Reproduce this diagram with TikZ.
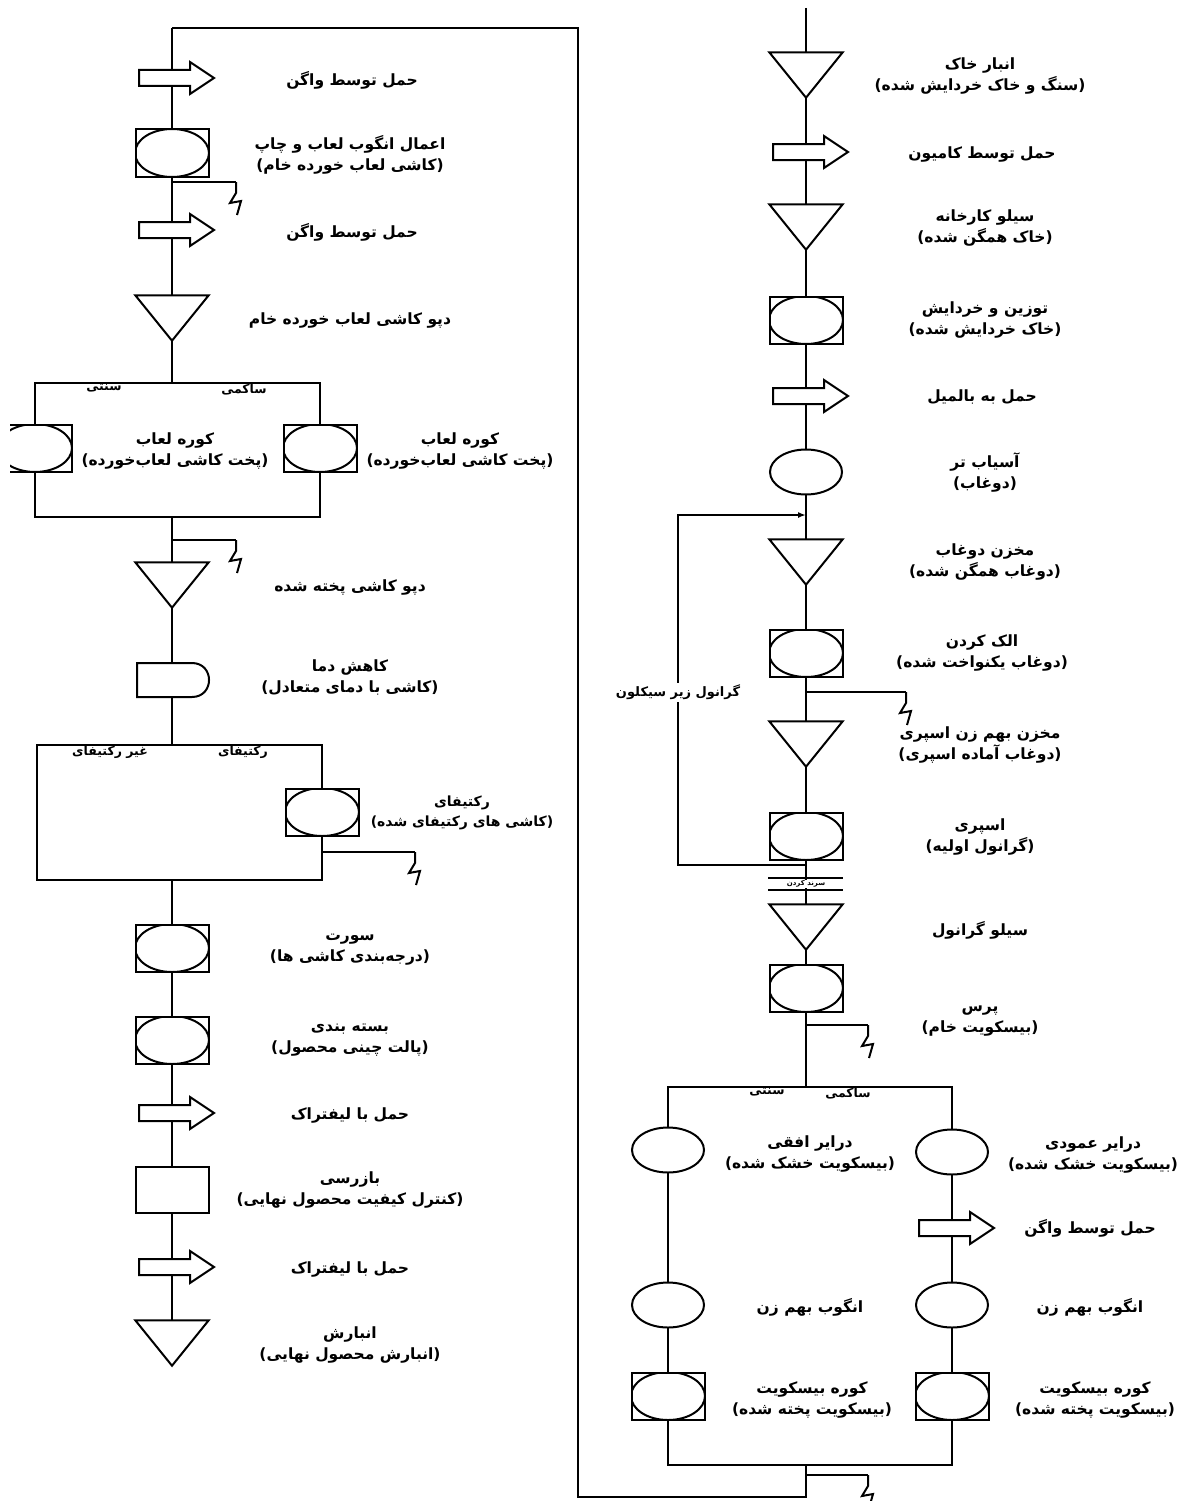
\documentclass[tikz,border=0pt]{standalone}
\usepackage{fontspec}
\usetikzlibrary{shapes.geometric,arrows.meta}
\TeXXeTstate=1
\newfontfamily\fafont[Script=Arabic]{DejaVu Sans}
\newcommand{\fa}[1]{{\fafont\bfseries\beginR #1\endR}}
\pgfdeclarelayer{background}
\pgfsetlayers{background,main}
\tikzset{
  flow/.style={line width=2pt},
  shapeline/.style={line width=2pt, fill=white, line join=miter},
  opbox/.style={draw, fill=white, line width=2pt, minimum width=73pt, minimum height=47pt, inner sep=0pt,
    path picture={\draw[line width=2pt] (path picture bounding box.center) ellipse [x radius=37pt, y radius=24pt];}},
  opcirc/.style={ellipse, draw, fill=white, line width=2pt, minimum width=72pt, minimum height=45pt, inner sep=0pt},
  inspect/.style={draw, fill=white, line width=2pt, minimum width=73pt, minimum height=46pt, inner sep=0pt},
  store/.style={minimum width=73pt, minimum height=45pt, inner sep=0pt},
  carry/.style={minimum width=75pt, minimum height=32pt, inner sep=0pt},
  delay/.style={minimum width=73pt, minimum height=34pt, inner sep=0pt},
  lbl/.style={font=\fontsize{15.5}{21}\selectfont, align=center, inner sep=1pt},
  branch/.style={font=\fontsize{12.5}{13}\selectfont, anchor=north, inner sep=0pt},
  scrap/.pic={\draw[flow] (0,0) -- (0,11) -- (-6,21) -- (5,19) -- (1,33);}
}
% storage triangle, transport arrow, delay
\newcommand{\storenode}[2]{\node[store] (#1) at #2 {};
  \filldraw[shapeline] (#1.north west) -- (#1.north east) -- (#1.south) -- cycle;}
\newcommand{\carrynode}[2]{\node[carry] (#1) at #2 {};
  \filldraw[shapeline] ([shift={(-33,-8)}]#1.center) -- ++(51,0) -- ++(0,-8) -- ++(24,16)
    -- ++(-24,16) -- ++(0,-8) -- ++(-51,0) -- cycle;}
\newcommand{\delaynode}[2]{\node[delay] (#1) at #2 {};
  \filldraw[shapeline] ([shift={(-35,-17)}]#1.center) -- ([shift={(20,-17)}]#1.center)
    .. controls ([shift={(42.7,-17)}]#1.center) and ([shift={(42.7,17)}]#1.center) .. ([shift={(20,17)}]#1.center)
    -- ([shift={(-35,17)}]#1.center) -- cycle;}
\begin{document}
\begin{tikzpicture}[x=1pt,y=-1pt]
\useasboundingbox (0,0) rectangle (1189,1501);
\clip (10,-2) rectangle (1189,1501);

% left column
\carrynode{L1}{(172,78)}
\node[opbox] (L2) at (172,153) {};
\carrynode{L3}{(172,230)}
\storenode{L4}{(172,318)}
\node[opbox] (B1L) at (35,448) {};
\node[opbox] (B1R) at (320,448) {};
\storenode{L5}{(172,585)}
\delaynode{L6}{(172,680)}
\node[opbox] (B2R) at (322,812) {};
\node[opbox] (L7) at (172,948) {};
\node[opbox] (L8) at (172,1040) {};
\carrynode{L9}{(172,1113)}
\node[inspect] (L10) at (172,1190) {};
\carrynode{L11}{(172,1267)}
\storenode{L12}{(172,1343)}

\node[lbl] (tL1) at (352,80) {\fa{حمل توسط واگن}};
\node[lbl] (tL2) at (350,155) {\fa{اعمال انگوب لعاب و چاپ}\\\fa{(کاشی لعاب خورده خام)}};
\node[lbl] (tL3) at (352,232) {\fa{حمل توسط واگن}};
\node[lbl] (tL4) at (350,321) {\fa{دپو کاشی لعاب خورده خام}};
\node[lbl] (tB1L) at (175,451) {\fa{کوره لعاب}\\\fa{(پخت کاشی لعاب‌خورده)}};
\node[lbl] (tB1R) at (460,451) {\fa{کوره لعاب}\\\fa{(پخت کاشی لعاب‌خورده)}};
\node[branch] (k1a) at (104,384) {\fa{سنتی}};
\node[branch] (k1b) at (244,384) {\fa{ساکمی}};
\node[lbl] (tL5) at (350,587) {\fa{دپو کاشی پخته شده}};
\node[lbl] (tL6) at (350,678) {\fa{کاهش دما}\\\fa{(کاشی با دمای متعادل)}};
\node[branch] (k2a) at (110,746) {\fa{غیر رکتیفای}};
\node[branch] (k2b) at (243,746) {\fa{رکتیفای}};
\node[lbl, font=\fontsize{14}{20}\selectfont] (tB2R) at (462,813) {\fa{رکتیفای}\\\fa{(کاشی های رکتیفای شده)}};
\node[lbl] (tL7) at (350,950) {\fa{سورت}\\\fa{(درجه‌بندی کاشی ها)}};
\node[lbl] (tL8) at (350,1040) {\fa{بسته بندی}\\\fa{(پالت چینی محصول)}};
\node[lbl] (tL9) at (350,1115) {\fa{حمل با لیفتراک}};
\node[lbl] (tL10) at (350,1190) {\fa{بازرسی}\\\fa{(کنترل کیفیت محصول نهایی)}};
\node[lbl] (tL11) at (350,1269) {\fa{حمل با لیفتراک}};
\node[lbl] (tL12) at (350,1345) {\fa{انبارش}\\\fa{(انبارش محصول نهایی)}};

% right column
\storenode{R1}{(806,75)}
\carrynode{R2}{(806,152)}
\storenode{R3}{(806,227)}
\node[opbox] (R4) at (806,320) {};
\carrynode{R5}{(806,396)}
\node[opcirc] (R6) at (806,472) {};
\storenode{R7}{(806,562)}
\node[opbox] (R8) at (806,653) {};
\storenode{R9}{(806,744)}
\node[opbox] (R10) at (806,836) {};
\storenode{R11}{(806,927)}
\node[opbox] (R12) at (806,988) {};
\node[opcirc] (B3L1) at (668,1150) {};
\node[opcirc] (B3L2) at (668,1305) {};
\node[opbox] (B3L3) at (668,1396) {};
\node[opcirc] (B3R1) at (952,1152) {};
\carrynode{B3R2}{(952,1228)}
\node[opcirc] (B3R3) at (952,1305) {};
\node[opbox] (B3R4) at (952,1396) {};

\node[lbl] (tR1) at (980,76) {\fa{انبار خاک}\\\fa{(سنگ و خاک خردایش شده)}};
\node[lbl] (tR2) at (982,155) {\fa{حمل توسط کامیون}};
\node[lbl] (tR3) at (985,228) {\fa{سیلو کارخانه}\\\fa{(خاک همگن شده)}};
\node[lbl] (tR4) at (985,320) {\fa{توزین و خردایش}\\\fa{(خاک خردایش شده)}};
\node[lbl] (tR5) at (982,397) {\fa{حمل به بالمیل}};
\node[lbl] (tR6) at (985,472) {\fa{آسیاب تر}\\\fa{(دوغاب)}};
\node[lbl] (tR7) at (985,562) {\fa{مخزن دوغاب}\\\fa{(دوغاب همگن شده)}};
\node[lbl] (tR8) at (982,653) {\fa{الک کردن}\\\fa{(دوغاب یکنواخت شده)}};
\node[lbl] (tR9) at (980,745) {\fa{مخزن بهم زن اسپری}\\\fa{(دوغاب آماده اسپری)}};
\node[lbl] (tR10) at (980,837) {\fa{اسپری}\\\fa{(گرانول اولیه)}};
\node[lbl] (tR11) at (980,930) {\fa{سیلو گرانول}};
\node[lbl] (tR12) at (980,1021) {\fa{پرس}\\\fa{(بیسکویت خام)}};
\node[branch] (k3a) at (767,1088) {\fa{سنتی}};
\node[branch] (k3b) at (848,1088) {\fa{ساکمی}};
\node[lbl] (tB3L1) at (810,1154) {\fa{درایر افقی}\\\fa{(بیسکویت خشک شده)}};
\node[lbl] (tB3R1) at (1093,1155) {\fa{درایر عمودی}\\\fa{(بیسکویت خشک شده)}};
\node[lbl] (tB3R2) at (1090,1228) {\fa{حمل توسط واگن}};
\node[lbl] (tB3L2) at (810,1307) {\fa{انگوب بهم زن}};
\node[lbl] (tB3R3) at (1090,1307) {\fa{انگوب بهم زن}};
\node[lbl] (tB3L3) at (812,1400) {\fa{کوره بیسکویت}\\\fa{(بیسکویت پخته شده)}};
\node[lbl] (tB3R4) at (1095,1400) {\fa{کوره بیسکویت}\\\fa{(بیسکویت پخته شده)}};

% granule sieve between spray and silo
\draw[flow] (768,878) -- (843,878);
\draw[flow] (768,890) -- (843,890);
\node[font=\fontsize{7}{7}\selectfont, fill=white, inner sep=0.5pt] (sieve) at (806,884) {\fa{سرند کردن}};

% junctions
\coordinate (src) at (806,8);
\coordinate (b1t) at (172,383);
\coordinate (b1b) at (172,517);
\coordinate (b2t) at (172,745);
\coordinate (b2b) at (172,880);
\coordinate (b3t) at (806,1087);
\coordinate (b3b) at (806,1465);
\coordinate (loopin) at (806,515);
\coordinate (loopout) at (806,865);
\coordinate (ret1) at (806,1497);
\coordinate (ret2) at (578,1497);
\coordinate (ret3) at (578,28);
\coordinate (ret4) at (172,28);

\draw[flow,-{Latex[length=8pt,width=6pt]}] (loopout) -- (678,865) -- (678,515) -- (loopin);
\node[font=\fontsize{13}{14}\selectfont, fill=white, inner sep=2pt] (tloop) at (678,692) {\fa{گرانول زیر سیکلون}};

\begin{pgfonlayer}{background}
\draw[flow] (src) -- (R1.center) -- (R2.center) -- (R3.center) -- (R4.center) -- (R5.center)
  -- (R6.center) -- (R7.center) -- (R8.center) -- (R9.center) -- (R10.center) -- (R11.center)
  -- (R12.center) -- (b3t);
\draw[flow] (668,1087) rectangle (952,1465);
\draw[flow] (b3b) -- (ret1) -- (ret2) -- (ret3) -- (ret4);
\draw[flow] (ret4) -- (L1.center) -- (L2.center) -- (L3.center) -- (L4.center) -- (b1t);
\draw[flow] (35,383) rectangle (320,517);
\draw[flow] (b1b) -- (L5.center) -- (L6.center) -- (b2t);
\draw[flow] (37,745) rectangle (322,880);
\draw[flow] (b2b) -- (L7.center) -- (L8.center) -- (L9.center) -- (L10.center) -- (L11.center)
  -- (L12.center);
% waste lines
\draw[flow] (172,182) -- ++(64,0) pic {scrap};
\draw[flow] (172,540) -- ++(64,0) pic {scrap};
\draw[flow] (322,852) -- ++(93,0) pic {scrap};
\draw[flow] (806,692) -- ++(100,0) pic {scrap};
\draw[flow] (806,1025) -- ++(62,0) pic {scrap};
\draw[flow] (806,1475) -- ++(62,0) pic {scrap};
\end{pgfonlayer}
\end{tikzpicture}
\end{document}
